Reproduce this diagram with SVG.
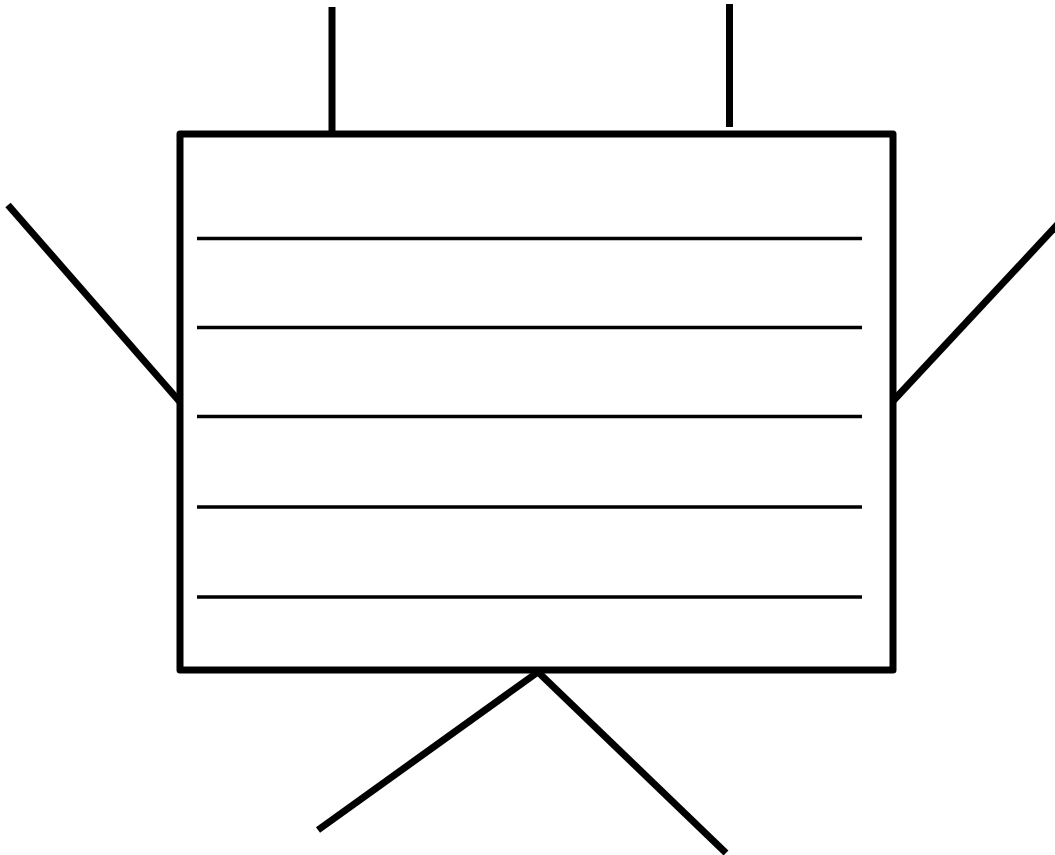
<svg xmlns="http://www.w3.org/2000/svg" width="1055" height="855" viewBox="0 0 1055 855">
<style>
.thick{stroke:#000;stroke-width:7;fill:none;stroke-linecap:butt}
.thin{stroke:#000;stroke-width:3.5;fill:none}
</style>
<rect width="1055" height="855" fill="#fff"/>
<g id="connectors">
<line class="thick" x1="332" y1="7" x2="332" y2="134"/>
<line class="thick" x1="729.5" y1="4" x2="729.5" y2="127"/>
<line class="thick" x1="8" y1="205" x2="180" y2="402"/>
<line class="thick" x1="893" y1="401" x2="1058" y2="224"/>
<line class="thick" x1="538" y1="672" x2="318" y2="830"/>
<line class="thick" x1="538" y1="672" x2="726" y2="853"/>
</g>
<g id="node">
<rect class="thick" x="180" y="134" width="713" height="536" stroke-linejoin="round"/>
<line class="thin" x1="197" y1="238.5" x2="862" y2="238.5"/>
<line class="thin" x1="197" y1="327.5" x2="862" y2="327.5"/>
<line class="thin" x1="197" y1="416.5" x2="862" y2="416.5"/>
<line class="thin" x1="197" y1="507" x2="862" y2="507"/>
<line class="thin" x1="197" y1="597" x2="862" y2="597"/>
</g>
</svg>
